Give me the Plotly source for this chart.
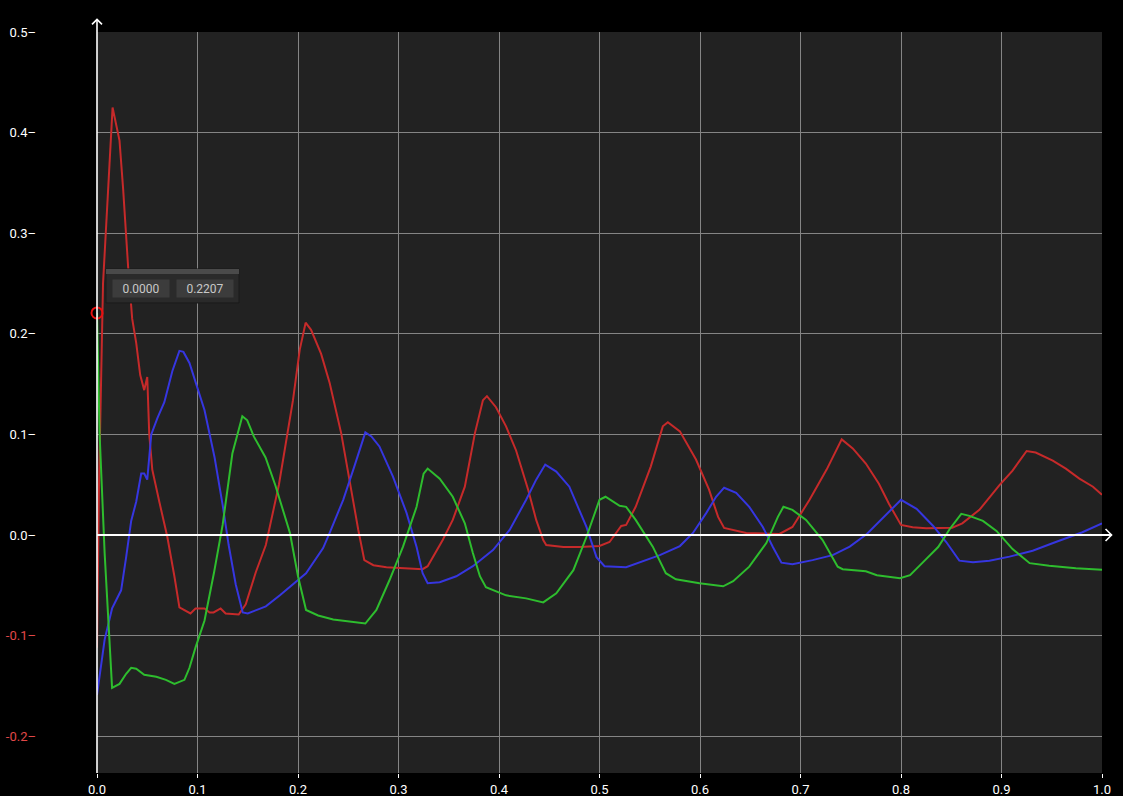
import plotly.graph_objects as go

# traced curves (x in s, y values)
red_x = [0, 0.002, 0.006, 0.0155, 0.0224, 0.026, 0.031, 0.035, 0.039, 0.043,
         0.047, 0.050, 0.052, 0.055, 0.062, 0.070, 0.077, 0.082, 0.093, 0.098,
         0.107, 0.112, 0.116, 0.123, 0.128, 0.141, 0.148, 0.158, 0.168, 0.181,
         0.195, 0.2017, 0.2076, 0.213, 0.223, 0.2315, 0.243, 0.251, 0.260, 0.266,
         0.275, 0.288, 0.308, 0.324, 0.329, 0.344, 0.354, 0.366, 0.376, 0.384,
         0.388, 0.397, 0.407, 0.417, 0.429, 0.437, 0.444, 0.447, 0.464, 0.480,
         0.500, 0.510, 0.5216, 0.5265, 0.536, 0.551, 0.563, 0.568, 0.580, 0.596,
         0.609, 0.618, 0.624, 0.646, 0.679, 0.692, 0.709, 0.726, 0.741, 0.752,
         0.765, 0.778, 0.788, 0.800, 0.8116, 0.825, 0.851, 0.861, 0.878, 0.898,
         0.911, 0.925, 0.934, 0.951, 0.964, 0.9775, 0.991, 1.0]
red_y = [-0.112, 0.05, 0.25, 0.425, 0.392, 0.344, 0.266, 0.215, 0.191, 0.159,
         0.144, 0.157, 0.100, 0.065, 0.033, -0.002, -0.041, -0.072, -0.078, -0.073,
         -0.073, -0.077, -0.077, -0.073, -0.078, -0.079, -0.069, -0.037, -0.010, 0.050,
         0.134, 0.184, 0.211, 0.204, 0.180, 0.151, 0.101, 0.055, 0.005, -0.025,
         -0.030, -0.032, -0.033, -0.034, -0.031, -0.005, 0.015, 0.048, 0.101, 0.134,
         0.138, 0.127, 0.108, 0.084, 0.045, 0.015, -0.005, -0.010, -0.012, -0.012,
         -0.011, -0.007, 0.009, 0.010, 0.028, 0.068, 0.108, 0.112, 0.103, 0.075,
         0.045, 0.018, 0.007, 0.002, 0.001, 0.008, 0.035, 0.065, 0.095, 0.086,
         0.071, 0.051, 0.031, 0.010, 0.0076, 0.0066, 0.0073, 0.0116, 0.025, 0.0495,
         0.064, 0.0835, 0.082, 0.074, 0.066, 0.056, 0.048, 0.040]

blue_x = [0, 0.0076, 0.015, 0.024, 0.029, 0.034, 0.039, 0.044, 0.047, 0.050,
          0.054, 0.060, 0.067, 0.075, 0.082, 0.086, 0.092, 0.098, 0.107, 0.117,
          0.125, 0.131, 0.138, 0.145, 0.150, 0.168, 0.182, 0.208, 0.225, 0.2315,
          0.245, 0.256, 0.267, 0.273, 0.281, 0.2945, 0.308, 0.318, 0.324, 0.329,
          0.341, 0.3575, 0.374, 0.394, 0.4106, 0.427, 0.437, 0.446, 0.457, 0.470,
          0.4735, 0.487, 0.497, 0.505, 0.5265, 0.546, 0.560, 0.580, 0.593, 0.606,
          0.616, 0.624, 0.636, 0.649, 0.6625, 0.6725, 0.681, 0.692, 0.712, 0.732,
          0.749, 0.766, 0.7825, 0.800, 0.8155, 0.832, 0.845, 0.858, 0.8716, 0.888,
          0.908, 0.931, 0.954, 0.9805, 1.0]
blue_y = [-0.159, -0.104, -0.073, -0.055, -0.022, 0.014, 0.033, 0.061, 0.061, 0.055,
          0.100, 0.116, 0.132, 0.163, 0.183, 0.182, 0.171, 0.152, 0.124, 0.077,
          0.030, -0.010, -0.049, -0.077, -0.078, -0.071, -0.060, -0.038, -0.013, 0.002,
          0.035, 0.068, 0.102, 0.098, 0.088, 0.058, 0.022, -0.012, -0.038, -0.048,
          -0.047, -0.041, -0.031, -0.015, 0.005, 0.035, 0.055, 0.070, 0.063, 0.048,
          0.040, 0.008, -0.022, -0.031, -0.032, -0.025, -0.020, -0.011, 0.002, 0.0215,
          0.038, 0.047, 0.042, 0.028, 0.008, -0.012, -0.0275, -0.029, -0.025, -0.020,
          -0.0116, 0.001, 0.0176, 0.035, 0.026, 0.009, -0.007, -0.0255, -0.027, -0.0255,
          -0.0215, -0.0156, -0.007, 0.0027, 0.0116]

green_x = [0, 0.0026, 0.0076, 0.015, 0.0224, 0.029, 0.034, 0.039, 0.047, 0.059,
           0.0686, 0.077, 0.087, 0.092, 0.098, 0.107, 0.1165, 0.125, 0.1347, 0.1446,
           0.1495, 0.156, 0.1677, 0.1776, 0.192, 0.200, 0.208, 0.220, 0.235, 0.251,
           0.261, 0.267, 0.278, 0.291, 0.3045, 0.318, 0.325, 0.329, 0.341, 0.354,
           0.366, 0.374, 0.381, 0.387, 0.407, 0.427, 0.444, 0.457, 0.474, 0.487,
           0.500, 0.506, 0.520, 0.5265, 0.536, 0.553, 0.566, 0.576, 0.5995, 0.623,
           0.633, 0.649, 0.666, 0.6775, 0.683, 0.692, 0.7055, 0.722, 0.737, 0.742,
           0.765, 0.776, 0.799, 0.809, 0.822, 0.837, 0.8485, 0.860, 0.868, 0.8815,
           0.895, 0.911, 0.928, 0.9475, 0.974, 1.0]
green_y = [0.2207, 0.100, -0.018, -0.152, -0.148, -0.138, -0.132, -0.133, -0.139, -0.141,
           -0.144, -0.148, -0.144, -0.132, -0.112, -0.085, -0.037, 0.010, 0.081, 0.118,
           0.114, 0.098, 0.077, 0.049, 0.002, -0.041, -0.0745, -0.080, -0.084, -0.086,
           -0.087, -0.088, -0.0745, -0.045, -0.0116, 0.028, 0.061, 0.066, 0.056, 0.038,
           0.0116, -0.018, -0.041, -0.052, -0.060, -0.063, -0.067, -0.058, -0.035, -0.002,
           0.035, 0.038, 0.029, 0.028, 0.015, -0.0116, -0.038, -0.044, -0.048, -0.051,
           -0.046, -0.0315, -0.008, 0.018, 0.028, 0.025, 0.015, -0.005, -0.0315, -0.034,
           -0.036, -0.040, -0.043, -0.040, -0.027, -0.012, 0.006, 0.021, 0.019, 0.014,
           0.004, -0.014, -0.028, -0.0305, -0.033, -0.0345]

# selected point shown in the tooltip
sel_x = 0.0
sel_y = 0.2207

x_ticks = [0.0, 0.1, 0.2, 0.3, 0.4, 0.5, 0.6, 0.7, 0.8, 0.9, 1.0]
y_ticks = [-0.2, -0.1, 0.0, 0.1, 0.2, 0.3, 0.4, 0.5]

x_range = [0, 1.0]
y_range = [-0.2366, 0.5]

FONT = "Roboto"

fig = go.Figure()
for xs, ys, col in [(red_x, red_y, "#c62a2a"),
                    (blue_x, blue_y, "#3636e0"),
                    (green_x, green_y, "#2ebd2e")]:
    fig.add_trace(go.Scatter(x=xs, y=ys, mode="lines",
                             line=dict(color=col, width=2), hoverinfo="skip"))

fig.add_trace(go.Scatter(x=[sel_x], y=[sel_y], mode="markers", cliponaxis=False,
                         marker=dict(symbol="circle-open", size=11, color="#e81010",
                                     line=dict(width=2, color="#e81010")),
                         hoverinfo="skip"))


def ylab(v):
    s = f"{v:.1f}–"
    if v < 0:
        return f"<span style='color:#e04848'>{s}</span>"
    return s


zero_frac = (0 - y_range[0]) / (y_range[1] - y_range[0])

shapes = [
    # white axis lines with arrows
    dict(type="line", xref="paper", yref="paper", x0=0, x1=0, y0=0, y1=1.017,
         line=dict(color="white", width=1.6), layer="above"),
    dict(type="line", xref="paper", yref="paper", x0=0, x1=1.0095, y0=zero_frac, y1=zero_frac,
         line=dict(color="white", width=2), layer="above"),
    dict(type="path", xref="paper", yref="paper", xsizemode="pixel", ysizemode="pixel",
         xanchor=0, yanchor=1.017, path="M -5 -5 L 0 0 L 5 -5",
         line=dict(color="white", width=1.6), layer="above"),
    dict(type="path", xref="paper", yref="paper", xsizemode="pixel", ysizemode="pixel",
         xanchor=1.0095, yanchor=zero_frac, path="M -6 6 L 0 0 L -6 -6",
         line=dict(color="white", width=1.6), layer="above"),
    # tooltip box
    dict(type="rect", xref="x", yref="y", xsizemode="pixel", ysizemode="pixel",
         xanchor=sel_x, yanchor=sel_y, x0=9, x1=142, y0=10, y1=44,
         fillcolor="#2a2a2a", line=dict(color="#1a1a1a", width=1), layer="above"),
    dict(type="rect", xref="x", yref="y", xsizemode="pixel", ysizemode="pixel",
         xanchor=sel_x, yanchor=sel_y, x0=9, x1=142, y0=39, y1=44,
         fillcolor="#4a4a4a", line=dict(width=0), layer="above"),
]

annotations = []
for i, val in enumerate([sel_x, sel_y]):
    annotations.append(dict(
        x=sel_x, y=sel_y, xref="x", yref="y", text=f"{val:.4f}", showarrow=False,
        xanchor="left", yanchor="top", xshift=15 + i * 64, yshift=34,
        width=56, height=17, bgcolor="#3c3c3c", borderpad=0,
        font=dict(family=FONT, size=12, color="#c8c8c8")))

fig.update_layout(
    width=1123, height=796,
    paper_bgcolor="black", plot_bgcolor="#222222",
    margin=dict(l=97, r=21, t=32, b=23),
    showlegend=False,
    font=dict(family=FONT, size=13, color="white"),
    shapes=shapes, annotations=annotations,
    xaxis=dict(range=x_range, tickvals=x_ticks, ticktext=[f"{v:.1f}" for v in x_ticks],
               showgrid=True, gridcolor="#858585", gridwidth=1, zeroline=False,
               ticks="outside", ticklen=4, tickcolor="white", showline=False,
               automargin=False, tickfont=dict(family=FONT, size=13, color="white")),
    yaxis=dict(range=y_range, tickvals=y_ticks, ticktext=[ylab(v) for v in y_ticks],
               showgrid=True, gridcolor="#858585", gridwidth=1, zeroline=False,
               ticks="", ticklabelstandoff=60, showline=False, automargin=False,
               tickfont=dict(family=FONT, size=13, color="white")),
)

fig.write_html("out.html", config={"displayModeBar": False},
               post_script="document.body.style.margin='0';"
                           "document.body.style.background='black';")
